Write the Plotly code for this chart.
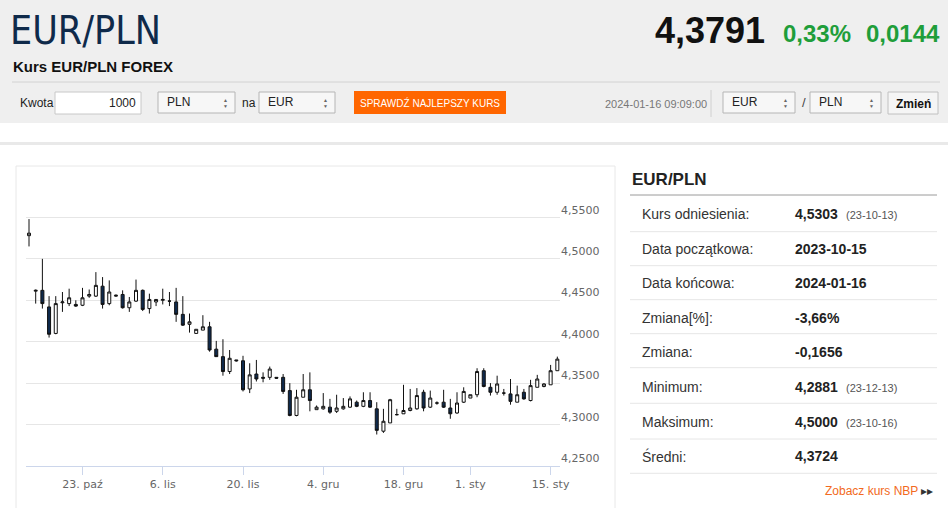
import plotly.graph_objects as go

# candles (sessions on an ordinal axis, like the source chart)
dates = [
    "2023-10-13", "2023-10-15", "2023-10-16", "2023-10-17", "2023-10-18", "2023-10-19", "2023-10-20",
    "2023-10-22", "2023-10-23", "2023-10-24", "2023-10-25", "2023-10-26", "2023-10-27",
    "2023-10-29", "2023-10-30", "2023-10-31", "2023-11-01", "2023-11-02", "2023-11-03",
    "2023-11-05", "2023-11-06", "2023-11-07", "2023-11-08", "2023-11-09", "2023-11-10",
    "2023-11-12", "2023-11-13", "2023-11-14", "2023-11-15", "2023-11-16", "2023-11-17",
    "2023-11-19", "2023-11-20", "2023-11-21", "2023-11-22", "2023-11-23", "2023-11-24",
    "2023-11-26", "2023-11-27", "2023-11-28", "2023-11-29", "2023-11-30", "2023-12-01",
    "2023-12-03", "2023-12-04", "2023-12-05", "2023-12-06", "2023-12-07", "2023-12-08",
    "2023-12-10", "2023-12-11", "2023-12-12", "2023-12-13", "2023-12-14", "2023-12-15",
    "2023-12-17", "2023-12-18", "2023-12-19", "2023-12-20", "2023-12-21", "2023-12-22",
    "2023-12-24", "2023-12-27", "2023-12-28", "2023-12-29", "2023-12-31",
    "2024-01-01", "2024-01-02", "2024-01-03", "2024-01-04", "2024-01-05",
    "2024-01-07", "2024-01-08", "2024-01-09", "2024-01-10", "2024-01-11", "2024-01-12",
    "2024-01-14", "2024-01-15", "2024-01-16",
]
open_ = [
    4.528, 4.461, 4.462, 4.442, 4.410, 4.447, 4.446, 4.445, 4.444, 4.455,
    4.455, 4.467, 4.446, 4.455, 4.457, 4.441, 4.449, 4.462, 4.440, 4.448,
    4.450, 4.449, 4.448, 4.433, 4.421, 4.410, 4.414, 4.418, 4.391, 4.382,
    4.364, 4.378, 4.377, 4.343, 4.361, 4.357, 4.357, 4.357, 4.357, 4.341,
    4.311, 4.333, 4.342, 4.318, 4.319, 4.321, 4.316, 4.319, 4.321, 4.327,
    4.322, 4.329, 4.319, 4.292, 4.302, 4.312, 4.313, 4.317, 4.319, 4.339,
    4.321, 4.326, 4.327, 4.320, 4.314, 4.327, 4.332, 4.336, 4.365, 4.345,
    4.339, 4.338, 4.337, 4.327, 4.339, 4.329, 4.345, 4.346, 4.348, 4.365,
]
high = [
    4.548, 4.463, 4.500, 4.455, 4.455, 4.460, 4.464, 4.450, 4.465, 4.463,
    4.484, 4.478, 4.474, 4.457, 4.462, 4.454, 4.475, 4.463, 4.458, 4.451,
    4.464, 4.460, 4.465, 4.455, 4.434, 4.415, 4.432, 4.424, 4.401, 4.403,
    4.390, 4.378, 4.383, 4.374, 4.378, 4.363, 4.370, 4.357, 4.361, 4.350,
    4.342, 4.361, 4.363, 4.323, 4.338, 4.331, 4.336, 4.332, 4.334, 4.329,
    4.339, 4.339, 4.327, 4.319, 4.331, 4.319, 4.348, 4.343, 4.344, 4.342,
    4.341, 4.328, 4.342, 4.331, 4.339, 4.345, 4.336, 4.368, 4.368, 4.350,
    4.359, 4.343, 4.355, 4.347, 4.343, 4.354, 4.360, 4.350, 4.372, 4.382,
]
low = [
    4.515, 4.446, 4.440, 4.405, 4.409, 4.436, 4.443, 4.442, 4.443, 4.453,
    4.454, 4.440, 4.444, 4.454, 4.440, 4.436, 4.448, 4.437, 4.434, 4.443,
    4.445, 4.443, 4.424, 4.419, 4.411, 4.410, 4.414, 4.388, 4.382, 4.359,
    4.361, 4.376, 4.340, 4.338, 4.352, 4.351, 4.354, 4.355, 4.337, 4.310,
    4.310, 4.333, 4.316, 4.318, 4.318, 4.313, 4.314, 4.318, 4.320, 4.321,
    4.321, 4.320, 4.288, 4.290, 4.302, 4.311, 4.313, 4.316, 4.318, 4.316,
    4.320, 4.324, 4.320, 4.307, 4.313, 4.326, 4.332, 4.333, 4.345, 4.335,
    4.336, 4.335, 4.324, 4.327, 4.330, 4.328, 4.345, 4.345, 4.348, 4.365,
]
close = [
    4.531, 4.462, 4.446, 4.409, 4.446, 4.448, 4.453, 4.443, 4.453, 4.457,
    4.468, 4.445, 4.460, 4.456, 4.441, 4.448, 4.462, 4.439, 4.451, 4.451,
    4.451, 4.449, 4.433, 4.420, 4.424, 4.415, 4.418, 4.390, 4.382, 4.364,
    4.380, 4.377, 4.342, 4.360, 4.355, 4.356, 4.367, 4.356, 4.340, 4.311,
    4.333, 4.342, 4.329, 4.321, 4.322, 4.315, 4.320, 4.322, 4.331, 4.322,
    4.329, 4.321, 4.293, 4.304, 4.330, 4.312, 4.317, 4.320, 4.335, 4.320,
    4.332, 4.326, 4.321, 4.313, 4.326, 4.340, 4.336, 4.364, 4.346, 4.339,
    4.349, 4.338, 4.328, 4.336, 4.331, 4.347, 4.355, 4.349, 4.365, 4.379,
]

x_tick_dates = ["2023-10-23", "2023-11-06", "2023-11-20", "2023-12-04", "2023-12-18", "2024-01-01", "2024-01-15"]
x_tick_labels = ["23. paź", "6. lis", "20. lis", "4. gru", "18. gru", "1. sty", "15. sty"]
y_ticks = [4.25, 4.30, 4.35, 4.40, 4.45, 4.50, 4.55, 4.60]
y_tick_labels = ["4,2500", "4,3000", "4,3500", "4,4000", "4,4500", "4,5000", "4,5500", ""]

# side table
stat_labels = ["Kurs odniesienia:", "Data początkowa:", "Data końcowa:", "Zmiana[%]:",
               "Zmiana:", "Minimum:", "Maksimum:", "Średni:"]
stat_values = ["4,5303", "2023-10-15", "2024-01-16", "-3,66%", "-0,1656", "4,2881", "4,5000", "4,3724"]
stat_notes = ["(23-10-13)", "", "", "", "", "(23-12-13)", "(23-10-16)", ""]

W, H = 948, 508
def fx(x):
    return x / W
def fy(y):
    return 1 - y / H

COND = "DejaVu Sans Condensed, Liberation Sans Narrow, Liberation Sans, Arial"
ARIAL = "Liberation Sans, Arial"
HC = "DejaVu Sans, Verdana, sans-serif"

fig = go.Figure()
fig.add_trace(go.Candlestick(
    x=dates, open=open_, high=high, low=low, close=close,
    increasing=dict(line=dict(color="#111111", width=1), fillcolor="#ffffff"),
    decreasing=dict(line=dict(color="#111111", width=1), fillcolor="#0f2a4d"),
    whiskerwidth=0, hoverinfo="skip", showlegend=False,
))

shapes = []
def rect(x0, y0, x1, y1, fill="rgba(0,0,0,0)", line="rgba(0,0,0,0)", lw=1):
    shapes.append(dict(type="rect", xref="paper", yref="paper", x0=fx(x0), x1=fx(x1),
                       y0=fy(y1), y1=fy(y0), fillcolor=fill, line=dict(color=line, width=lw),
                       layer="below"))
def hline(x0, x1, y, color, lw=1):
    shapes.append(dict(type="line", xref="paper", yref="paper", x0=fx(x0), x1=fx(x1),
                       y0=fy(y), y1=fy(y), line=dict(color=color, width=lw), layer="below"))

anns = []
def text(x, y, s, size=12, color="#000", family=ARIAL, anchor="left", bold=False):
    if bold:
        s = "<b>" + s + "</b>"
    anns.append(dict(x=fx(x), y=fy(y), xref="paper", yref="paper", text=s, showarrow=False,
                     xanchor=anchor, yanchor="middle", font=dict(size=size, color=color, family=family)))

# header band
rect(0, 0, 948, 123, fill="#efefef")
hline(12, 940, 82, "#d2d2d2")
text(8, 30, "EUR/PLN", size=39, color="#0f2a4a", family=COND)
text(11, 66, "Kurs EUR/PLN FOREX", size=15, color="#111", family=ARIAL, bold=True)
text(767, 30, "4,3791", size=36, color="#111", family=ARIAL, anchor="right", bold=True)
text(853, 33, "0,33%", size=24, color="#1f9e3a", family=ARIAL, anchor="right", bold=True)
text(942, 33, "0,0144", size=24, color="#1f9e3a", family=ARIAL, anchor="right", bold=True)

# converter controls
text(18, 103, "Kwota", size=12, color="#222", family=ARIAL)
rect(55, 92, 141, 114, fill="#ffffff", line="#c8c8c8")
text(138, 103, "1000", size=12, color="#222", family=ARIAL, anchor="right")
for x0, x1, lab in [(158, 235, "PLN"), (259, 335, "EUR"), (723, 795, "EUR"), (810, 881, "PLN")]:
    rect(x0, 92, x1, 113, fill="#f7f7f7", line="#b5b5b5")
    text(x0 + 7, 102, lab, size=12, color="#222", family=ARIAL)
    text(x1 - 10, 100, "▲", size=5, color="#666", anchor="center")
    text(x1 - 10, 106, "▼", size=5, color="#666", anchor="center")
text(240, 103, "na", size=12, color="#222", family=ARIAL)
rect(354, 91, 506, 114, fill="#ff6600")
text(430, 103, "SPRAWDŹ NAJLEPSZY KURS", size=10, color="#ffffff", family=ARIAL, anchor="center")
text(709, 104, "2024-01-16 09:09:00", size=11, color="#777", family=ARIAL, anchor="right")
shapes.append(dict(type="line", xref="paper", yref="paper", x0=fx(711), x1=fx(711),
                   y0=fy(117), y1=fy(90), line=dict(color="#d0d0d0", width=1), layer="below"))
text(800, 103, "/", size=13, color="#444", family=ARIAL)
rect(888, 92, 938, 114, fill="#f5f5f5", line="#c0c0c0")
text(913, 104, "Zmień", size=12, color="#111", family=ARIAL, anchor="center", bold=True)

# page body
rect(0, 142, 948, 145, fill="#e9e9e9")
rect(16, 166, 615, 512, line="#e8e8e8")

# side table
text(630, 179, "EUR/PLN", size=17, color="#222", family=ARIAL, bold=True)
hline(630, 937, 195, "#9a9a9a")
row_y = [214, 249, 283, 317.5, 351.5, 386.5, 421.5, 456]
sep_y = [231.7, 265.7, 299.7, 333.7, 367.7, 403.3, 439, 473.3]
for yy in sep_y:
    hline(630, 937, yy, "#e6e6e6")
for yy, lab, val, note in zip(row_y, stat_labels, stat_values, stat_notes):
    text(640, yy, lab, size=14, color="#333", family=ARIAL)
    text(793, yy, val, size=14, color="#222", family=ARIAL, bold=True)
    if note:
        text(844, yy + 1, note, size=11, color="#555", family=ARIAL)
text(935, 491, "Zobacz kurs NBP <span style='color:#333'>▸▸</span>", size=12, color="#f26a21",
     family=ARIAL, anchor="right")

tick_vals = [dates.index(d) for d in x_tick_dates]

fig.update_layout(
    width=W, height=H, autosize=False,
    margin=dict(l=0, r=0, t=0, b=0, autoexpand=False),
    paper_bgcolor="#ffffff", plot_bgcolor="rgba(0,0,0,0)",
    boxgap=0.36,
    showlegend=False,
    shapes=shapes, annotations=anns,
    xaxis=dict(
        type="category", domain=[fx(26), fx(560)], range=[-0.45, 79.4],
        rangeslider=dict(visible=False), fixedrange=True, automargin=False,
        tickmode="array", tickvals=tick_vals, ticktext=x_tick_labels,
        ticks="outside", ticklen=8, tickcolor="#ccd6eb", tickwidth=1,
        showgrid=False, showline=True, linecolor="#ccd6eb", linewidth=1,
        tickfont=dict(family=HC, size=11, color="#666"),
    ),
    yaxis=dict(
        side="right", domain=[fy(466), fy(176)], range=[4.25, 4.60], automargin=False,
        tickmode="array", tickvals=y_ticks, ticktext=y_tick_labels,
        ticklabelposition="outside top", ticks="", showline=False,
        showgrid=True, gridcolor="#e6e6e6", gridwidth=1, zeroline=False,
        tickfont=dict(family=HC, size=11, color="#666"),
    ),
)

# the page is photographed edge to edge: no body margin, no scrollbars, fixed size
page_js = ("document.body.style.margin='0';"
           "document.body.style.overflow='hidden';"
           "document.documentElement.style.overflow='hidden';")
fig.write_html("out.html", post_script=page_js,
               config={"displayModeBar": False, "responsive": False})
